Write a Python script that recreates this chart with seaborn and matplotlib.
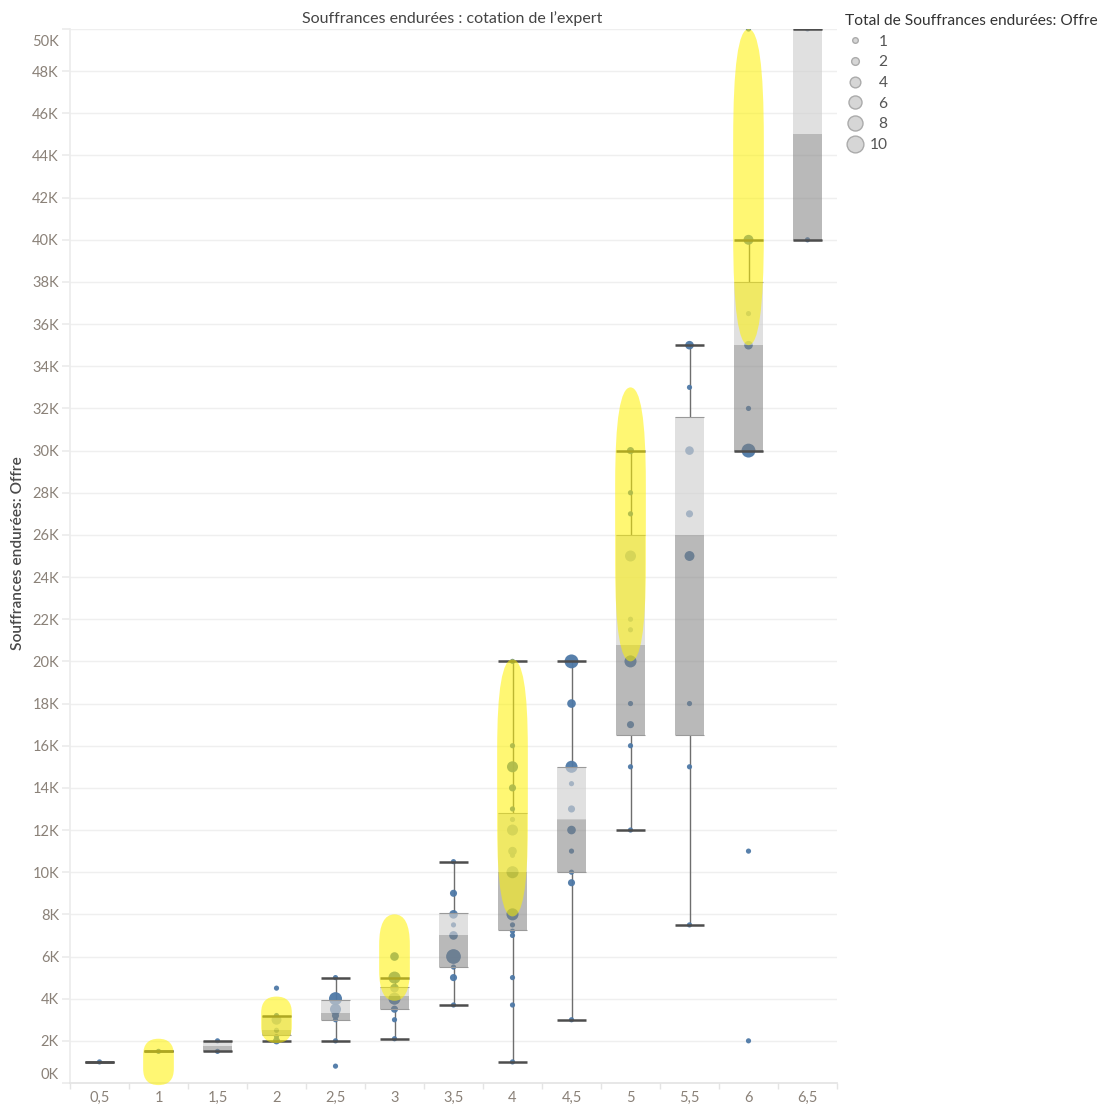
import numpy as np
import pandas as pd
import matplotlib
matplotlib.use("Agg")
import matplotlib.pyplot as plt
from matplotlib.lines import Line2D
from matplotlib.patches import FancyBboxPatch
from matplotlib.ticker import FuncFormatter, MultipleLocator
import seaborn as sns

sns.set_theme(style="white")
plt.rcParams["font.family"] = ["Lato", "DejaVu Sans"]

# ── Data ──────────────────────────────────────────────────────────────────────
categories = ["0,5", "1", "1,5", "2", "2,5", "3", "3,5", "4", "4,5", "5", "5,5", "6", "6,5"]

# box plot stats per category (euros)
whisker_low = [1000, 1500, 1500, 2000, 2000, 2100, 3700, 1000, 3000, 12000, 7500, 30000, 40000]
q1 = [1000, 1500, 1500, 2300, 3000, 3500, 5500, 7250, 10000, 16500, 16500, 30000, 40000]
median = [1000, 1500, 1750, 2500, 3300, 4150, 7000, 10000, 12500, 20800, 26000, 35000, 45000]
q3 = [1000, 1500, 2000, 3200, 3950, 4550, 8050, 12800, 15000, 26000, 31600, 38000, 50000]
whisker_high = [1000, 1500, 2000, 3200, 5000, 5000, 10500, 20000, 20000, 30000, 35000, 40000, 50000]

# individual offers: category, amount, number of cases
point_cat = (["0,5"] + ["1"] + ["1,5"] * 2 + ["2"] * 6 + ["2,5"] * 7 + ["3"] * 7 + ["3,5"] * 9
             + ["4"] * 17 + ["4,5"] * 10 + ["5"] * 12 + ["5,5"] * 8 + ["6"] * 8 + ["6,5"] * 2)
point_value = [1000,
               1500,
               2000, 1500,
               4500, 3200, 3000, 2500, 2200, 2000,
               5000, 4000, 3500, 3200, 3000, 2000, 800,
               6000, 5000, 4500, 4000, 3500, 3000, 2100,
               10500, 9000, 8000, 7500, 7000, 6000, 5500, 5000, 3700,
               20000, 16000, 15000, 14000, 13000, 12500, 12000, 11000, 10800, 10000, 8000, 7500, 7200, 7000, 5000, 3700, 1000,
               20000, 18000, 15000, 14200, 13000, 12000, 11000, 10000, 9500, 3000,
               30000, 28000, 27000, 25000, 22000, 21500, 20000, 18000, 17000, 16000, 15000, 12000,
               35000, 33000, 30000, 27000, 25000, 18000, 15000, 7500,
               50000, 40000, 36500, 35000, 32000, 30000, 11000, 2000,
               50000, 40000]
point_count = [1,
               1,
               1, 1,
               1, 1, 4, 1, 1, 2,
               1, 7, 5, 2, 1, 1, 1,
               3, 6, 3, 6, 2, 1, 1,
               1, 2, 3, 1, 3, 9, 1, 2, 1,
               1, 1, 5, 2, 1, 1, 5, 3, 1, 6, 6, 1, 1, 1, 1, 1, 1,
               8, 3, 6, 1, 2, 3, 1, 1, 2, 1,
               2, 1, 1, 5, 1, 1, 6, 1, 2, 1, 1, 1,
               3, 1, 3, 2, 4, 1, 1, 1,
               1, 4, 1, 3, 1, 8, 1, 1,
               1, 1]

# highlighted ranges
yellow_cat = ["1", "2", "3", "4", "5", "6"]
yellow_low = [-100, 1900, 3900, 7900, 20000, 35000]
yellow_high = [2100, 4100, 8000, 20100, 33000, 50000]

legend_counts = [1, 2, 4, 6, 8, 10]

BLUE = "#4e79a7"
TICK = "#8a8178"
size_range = (14, 125)
Y_MAX = 50000

# ── Figure ────────────────────────────────────────────────────────────────────
fig = plt.figure(figsize=(11.04, 11.06), dpi=100)
ax = fig.add_axes([70 / 1104, 1 - 1083 / 1106, 767 / 1104, 1054 / 1106])
xpos = np.arange(len(categories))

df = pd.DataFrame({"cat": point_cat, "value": point_value, "count": point_count})
df["pos"] = df["cat"].map({c: i for i, c in enumerate(categories)})

sns.scatterplot(data=df, x="pos", y="value", size="count", sizes=size_range, size_norm=(1, 10),
                color=BLUE, edgecolor="none", alpha=0.95, legend=False, ax=ax, zorder=2)

wl, a, m, b, wh = map(np.array, (whisker_low, q1, median, q3, whisker_high))
ax.vlines(xpos, wl, a, color="#6e6e6e", lw=1, zorder=1.5)
ax.vlines(xpos, b, wh, color="#6e6e6e", lw=1, zorder=1.5)
ax.bar(xpos, m - a, bottom=a, width=0.5, color="#808080", alpha=0.55, lw=0, zorder=3)
ax.bar(xpos, b - m, bottom=m, width=0.5, color="#d0d0d0", alpha=0.65, lw=0, zorder=3)
ax.hlines(a, xpos - 0.25, xpos + 0.25, color="#9a9a9a", lw=0.8, zorder=3.5)
ax.hlines(b, xpos - 0.25, xpos + 0.25, color="#9a9a9a", lw=0.8, zorder=3.5)
ax.hlines(wl, xpos - 0.25, xpos + 0.25, color="#4d4d4d", lw=1.8, zorder=4)
ax.hlines(wh, xpos - 0.25, xpos + 0.25, color="#4d4d4d", lw=1.8, zorder=4)

ax.set_xlim(-0.5, len(categories) - 0.5)
ax.set_ylim(0, Y_MAX)

# yellow capsules
pos = ax.get_position()
px_x = pos.width * fig.bbox.width / len(categories)
px_y = pos.height * fig.bbox.height / Y_MAX
w = 0.52
for c, lo, hi in zip(yellow_cat, yellow_low, yellow_high):
    x = categories.index(c)
    rx_px = w / 2 * px_x
    h_px = (hi - lo) * px_y
    ry_px = min(h_px / 2, max(rx_px, 0.35 * h_px))
    aspect = (ry_px / px_y) / (w / 2)
    ax.add_patch(FancyBboxPatch((x - w / 2, lo), w, hi - lo,
                                boxstyle=f"round,pad=0,rounding_size={w / 2}",
                                mutation_aspect=aspect, fc="#fff200", ec="none",
                                alpha=0.55, zorder=5, clip_on=False))

# axes styling
ax.set_xticks(xpos, categories)
ax.set_xticks(np.arange(len(categories) + 1) - 0.5, minor=True)
ax.yaxis.set_major_locator(MultipleLocator(2000))
# first and last labels are pinned inside the pane, Tableau style
ax.yaxis.set_major_formatter(FuncFormatter(
    lambda v, _: "" if v <= 0 or v >= Y_MAX else f"{v / 1000:.0f}K"))
for v, va in [(0, "bottom"), (Y_MAX, "top")]:
    ax.annotate(f"{v / 1000:.0f}K", xy=(0, v), xycoords=("axes fraction", "data"),
                xytext=(-8, 1 if va == "bottom" else -4), textcoords="offset points",
                ha="right", va=va, fontsize=10.5, color=TICK)
ax.grid(axis="y", color="#efefef", lw=1)
ax.set_axisbelow(True)
ax.tick_params(axis="y", left=True, length=6, color="#ececec", labelsize=10.5, labelcolor=TICK, pad=2)
ax.tick_params(axis="x", which="major", bottom=True, length=0, labelsize=10.5, labelcolor=TICK, pad=6)
ax.tick_params(axis="x", which="minor", bottom=True, length=4, color="#e4e4e4")
ax.set_xlabel("")
ax.set_ylabel("")
for side in ["top", "right"]:
    ax.spines[side].set_visible(False)
ax.spines["left"].set_color("#ececec")
ax.spines["bottom"].set_color("#e4e4e4")

fig.text(452 / 1104, 1 - 19 / 1106, "Souffrances endurées : cotation de l’expert",
         ha="center", va="center", fontsize=11.5, color="#444444")
fig.text(18 / 1104, 1 - 553 / 1106, "Souffrances endurées: Offre", rotation=90,
         ha="center", va="center", fontsize=11.2, weight="semibold", color="#4a4a4a")

# size legend
def area(c):
    return size_range[0] + (c - 1) / 9 * (size_range[1] - size_range[0])

handles = [Line2D([], [], ls="", marker="o", markersize=np.sqrt(area(c)) * 1.08,
                  markerfacecolor="#d6d6d6", markeredgecolor="#ababab", markeredgewidth=1)
           for c in legend_counts]
labels = [f"{c:>2}".replace(" ", "\u2007") for c in legend_counts]
leg = fig.legend(handles, labels, title="Total de Souffrances endurées: Offre",
                 loc="upper left", bbox_to_anchor=(845 / 1104, 1 - 14 / 1106), frameon=False,
                 fontsize=11.2, title_fontsize=11.2, alignment="left", labelspacing=0.43,
                 handletextpad=0.3, handlelength=1.3, borderaxespad=0, borderpad=0)
leg.get_title().set_color("#333333")
for t in leg.get_texts():
    t.set_color("#555555")

fig.savefig("out.png", dpi=100)
